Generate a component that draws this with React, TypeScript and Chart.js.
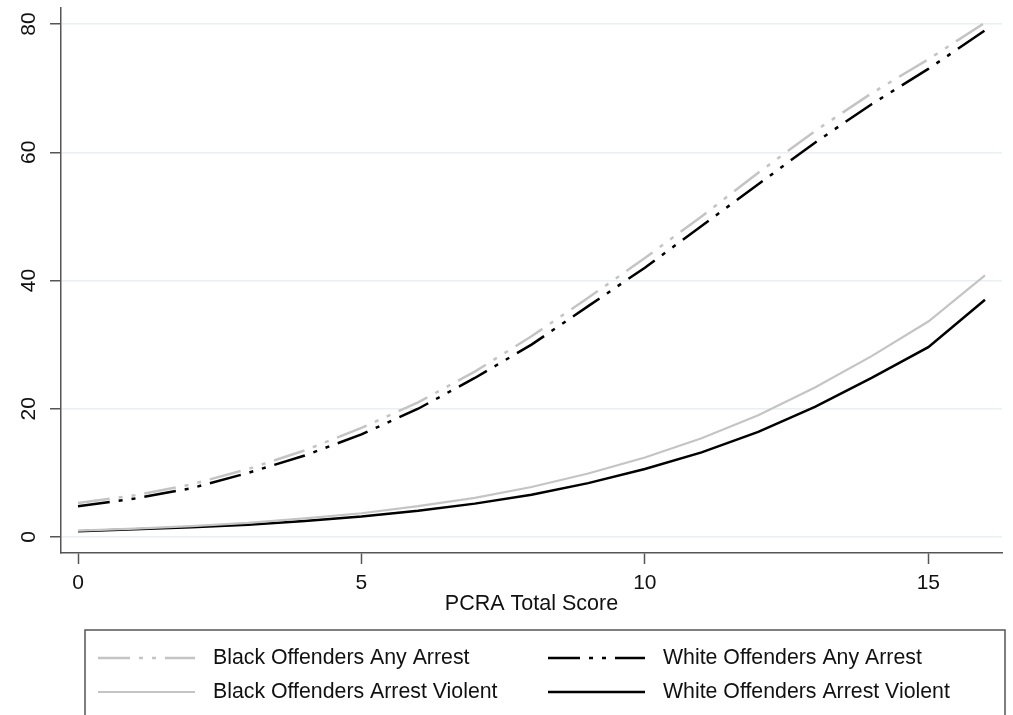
import React, { useEffect, useRef } from "react";
import { Chart, registerables } from "chart.js";

Chart.register(...registerables);

const scores = [0, 1, 2, 3, 4, 5, 6, 7, 8, 9, 10, 11, 12, 13, 14, 15, 16];
const blackAny = [5.3, 6.5, 8.2, 10.6, 13.5, 17.0, 21.0, 25.8, 31.3, 37.3, 43.5, 50.0, 56.8, 63.3, 69.2, 74.5, 80.2];
const whiteAny = [4.8, 6.0, 7.6, 10.0, 12.7, 16.0, 20.0, 24.8, 30.0, 36.0, 42.0, 48.5, 55.0, 61.5, 67.5, 73.0, 79.0];
const blackViolent = [1.0, 1.3, 1.7, 2.2, 2.9, 3.7, 4.8, 6.1, 7.8, 9.9, 12.4, 15.4, 19.0, 23.3, 28.2, 33.6, 40.8];
const whiteViolent = [0.9, 1.2, 1.5, 1.9, 2.5, 3.2, 4.1, 5.2, 6.6, 8.4, 10.6, 13.2, 16.4, 20.3, 24.8, 29.6, 37.0];
const xTicks = [0, 5, 10, 15];
const yTicks = [0, 20, 40, 60, 80];
const seriesLabels = [
  "Black Offenders Any Arrest",
  "White Offenders Any Arrest",
  "Black Offenders Arrest Violent",
  "White Offenders Arrest Violent",
];
const xTitle = "PCRA Total Score";

const toPoints = (vals: number[]) => scores.map((x, i) => ({ x, y: vals[i] }));

const DASH_DOT = [32, 9, 4, 9, 4, 9];
const GRAY = "#c4c4c4";
const BLACK = "#000000";
const FONT = '"Liberation Sans", Arial, Helvetica, sans-serif';

const boxLegend = {
  id: "boxLegend",
  afterDraw(chart: any) {
    const ctx = chart.ctx as CanvasRenderingContext2D;
    const left = 85;
    const right = 1005;
    const top = 630;
    ctx.save();
    ctx.strokeStyle = "#555";
    ctx.lineWidth = 1.5;
    ctx.setLineDash([]);
    ctx.strokeRect(left, top, right - left, chart.height - top + 20);
    chart.data.datasets.forEach((ds: any, i: number) => {
      const col = i % 2;
      const row = Math.floor(i / 2);
      const sx = col === 0 ? 98 : 548;
      const y = row === 0 ? 658 : 692;
      ctx.beginPath();
      ctx.setLineDash(ds.borderDash || []);
      ctx.lineCap = "butt";
      ctx.strokeStyle = ds.borderColor;
      ctx.lineWidth = ds.borderWidth;
      ctx.moveTo(sx, y);
      ctx.lineTo(sx + 97, y);
      ctx.stroke();
      ctx.setLineDash([]);
      ctx.fillStyle = "#111";
      ctx.font = `21.3px ${FONT}`;
      ctx.textBaseline = "middle";
      ctx.textAlign = "left";
      ctx.fillText(ds.label, sx + 115, y);
    });
    ctx.restore();
  },
};

const whiteBg = {
  id: "whiteBg",
  beforeDraw(chart: any) {
    const ctx = chart.ctx;
    ctx.save();
    ctx.fillStyle = "#fff";
    ctx.fillRect(0, 0, chart.width, chart.height);
    ctx.restore();
  },
};

export default function App() {
  const ref = useRef<HTMLCanvasElement>(null);
  useEffect(() => {
    if (!ref.current) return;
    const chart = new Chart(ref.current, {
      type: "line",
      data: {
        datasets: [
          { label: seriesLabels[0], data: toPoints(blackAny), borderColor: GRAY, borderWidth: 2.5, borderDash: DASH_DOT },
          { label: seriesLabels[1], data: toPoints(whiteAny), borderColor: BLACK, borderWidth: 2.5, borderDash: DASH_DOT },
          { label: seriesLabels[2], data: toPoints(blackViolent), borderColor: GRAY, borderWidth: 2.2 },
          { label: seriesLabels[3], data: toPoints(whiteViolent), borderColor: BLACK, borderWidth: 2.5 },
        ],
      },
      options: {
        responsive: false,
        animation: false,
        events: [],
        elements: { point: { radius: 0 }, line: { tension: 0, borderCapStyle: "butt" } },
        layout: { padding: { top: 8, right: 11, left: 0, bottom: 98 } },
        plugins: { legend: { display: false }, tooltip: { enabled: false } },
        scales: {
          x: {
            type: "linear",
            min: -0.3,
            max: 16.3,
            afterBuildTicks: (s: any) => {
              s.ticks = xTicks.map((v) => ({ value: v }));
            },
            afterFit: (s: any) => {
              s.height = 64;
              s.paddingLeft = 0;
              s.paddingRight = 0;
            },
            grid: { display: true, drawOnChartArea: false, drawTicks: true, tickLength: 11, tickColor: "#555", tickWidth: 1.5 },
            border: { display: true, color: "#555", width: 1.5 },
            ticks: { color: "#111", padding: 7, font: { family: FONT, size: 21 }, maxRotation: 0 },
            title: { display: true, text: xTitle, color: "#111", font: { family: FONT, size: 21.5 }, padding: { top: 0, bottom: 0 } },
          },
          y: {
            type: "linear",
            min: -2.5,
            max: 82.5,
            afterBuildTicks: (s: any) => {
              s.ticks = yTicks.map((v) => ({ value: v }));
            },
            afterFit: (s: any) => {
              s.width = 61;
              s.paddingTop = 0;
              s.paddingBottom = 0;
            },
            grid: { display: true, color: "#e8f0f2", lineWidth: 1.5, drawTicks: true, tickLength: 11, tickColor: "#555", tickWidth: 1.5 },
            border: { display: true, color: "#555", width: 1.5 },
            ticks: { color: "#111", padding: 9, minRotation: 90, maxRotation: 90, crossAlign: "center", font: { family: FONT, size: 21 } },
          },
        },
      },
      plugins: [whiteBg, boxLegend],
    } as any);
    return () => chart.destroy();
  }, []);
  return (
    <div style={{ position: "absolute", left: 0, top: 0, width: 1013, height: 715, background: "#fff", overflow: "hidden" }}>
      <canvas ref={ref} width={1013} height={715} style={{ display: "block" }} />
    </div>
  );
}
